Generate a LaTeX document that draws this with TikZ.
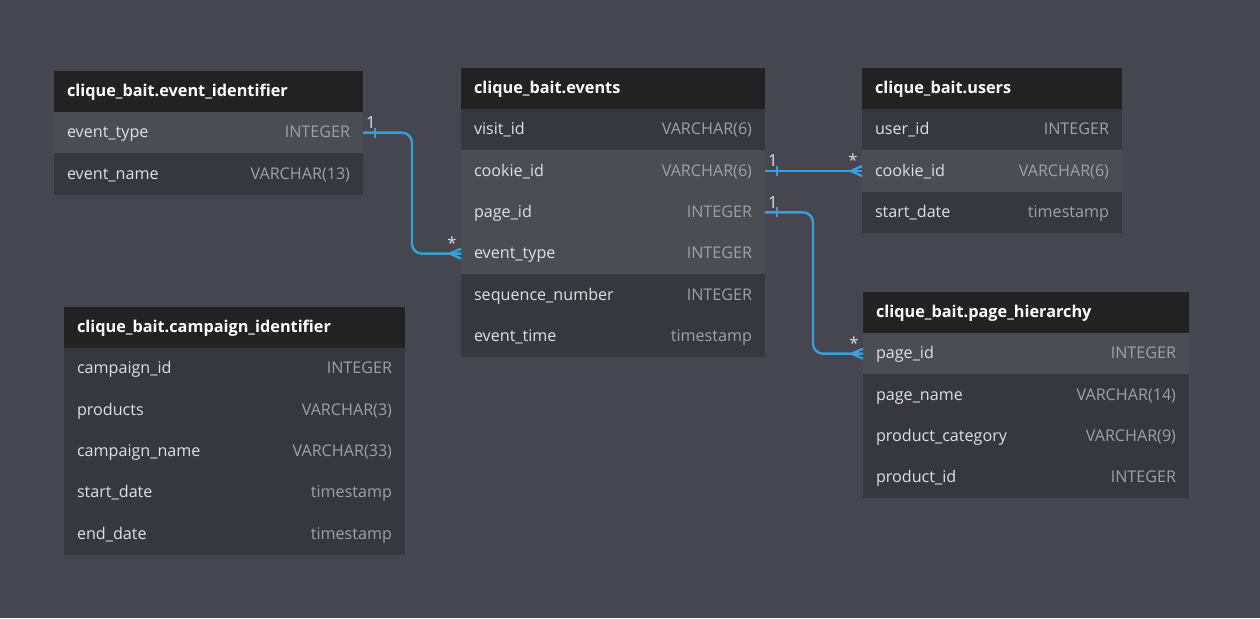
\documentclass[tikz,border=0pt]{standalone}
\usepackage{fontspec}
\setmainfont{Open Sans}
\usetikzlibrary{positioning}
\definecolor{canvasgrey}{RGB}{69,70,79}
\definecolor{headblack}{RGB}{34,34,35}
\definecolor{rowdark}{RGB}{55,56,63}
\definecolor{rowlight}{RGB}{75,76,84}
\definecolor{namegrey}{RGB}{224,224,226}
\definecolor{typegrey}{RGB}{160,160,166}
\definecolor{linkblue}{RGB}{55,160,220}

\begin{document}
\begin{tikzpicture}[
  x=0.75pt, y=-0.75pt,
  font=\fontsize{12.1}{14}\selectfont,
  head/.style={fill=headblack, text=white, font=\fontsize{12.2}{14}\selectfont\bfseries, anchor=north west,
    inner xsep=9.75pt, inner ysep=0pt, minimum height=30.75pt, text height=10.5pt, text depth=3pt, outer sep=0pt},
  row/.style={fill=#1, text=namegrey, inner xsep=9.75pt, inner ysep=0pt, minimum height=31pt,
    text height=10.5pt, text depth=3pt, outer sep=0pt},
  link/.style={draw=linkblue, line width=1.8pt, rounded corners=7.5pt},
  card/.style={text=namegrey, inner sep=0pt, font=\fontsize{12.5}{14}\selectfont},
]
\path[fill=canvasgrey, use as bounding box] (0,0) rectangle (1260,618);

% tables
\node[head] (ei0) at (54,71) {\makebox[212.25pt][l]{clique\_bait.event\_identifier}};
\foreach \n/\t/\f [count=\i, remember=\i as \j (initially 0)] in
  {event\_type/INTEGER/rowlight, event\_name/VARCHAR(13)/rowdark}
  \node[row=\f, below=0pt of ei\j] (ei\i) {\makebox[212.25pt]{\n\hfill\textcolor{typegrey}{\t}}};

\node[head] (ev0) at (461,68) {\makebox[208.5pt][l]{clique\_bait.events}};
\foreach \n/\t/\f [count=\i, remember=\i as \j (initially 0)] in
  {visit\_id/VARCHAR(6)/rowdark, cookie\_id/VARCHAR(6)/rowlight, page\_id/INTEGER/rowlight,
   event\_type/INTEGER/rowlight, sequence\_number/INTEGER/rowdark, event\_time/timestamp/rowdark}
  \node[row=\f, below=0pt of ev\j] (ev\i) {\makebox[208.5pt]{\n\hfill\textcolor{typegrey}{\t}}};

\node[head] (us0) at (862,68) {\makebox[175.5pt][l]{clique\_bait.users}};
\foreach \n/\t/\f [count=\i, remember=\i as \j (initially 0)] in
  {user\_id/INTEGER/rowdark, cookie\_id/VARCHAR(6)/rowlight, start\_date/timestamp/rowdark}
  \node[row=\f, below=0pt of us\j] (us\i) {\makebox[175.5pt]{\n\hfill\textcolor{typegrey}{\t}}};

\node[head] (ph0) at (863,292) {\makebox[225pt][l]{clique\_bait.page\_hierarchy}};
\foreach \n/\t/\f [count=\i, remember=\i as \j (initially 0)] in
  {page\_id/INTEGER/rowlight, page\_name/VARCHAR(14)/rowdark, product\_category/VARCHAR(9)/rowdark,
   product\_id/INTEGER/rowdark}
  \node[row=\f, below=0pt of ph\j] (ph\i) {\makebox[225pt]{\n\hfill\textcolor{typegrey}{\t}}};

\node[head] (ca0) at (64,307) {\makebox[236.25pt][l]{clique\_bait.campaign\_identifier}};
\foreach \n/\t/\f [count=\i, remember=\i as \j (initially 0)] in
  {campaign\_id/INTEGER/rowdark, products/VARCHAR(3)/rowdark, campaign\_name/VARCHAR(33)/rowdark,
   start\_date/timestamp/rowdark, end\_date/timestamp/rowdark}
  \node[row=\f, below=0pt of ca\j] (ca\i) {\makebox[236.25pt]{\n\hfill\textcolor{typegrey}{\t}}};

% relations
\draw[link] (ei1.east) -- ++(49,0) |- (ev4.west);
\draw[link] (ev2.east) -- (us2.west);
\draw[link] (ev3.east) -- ++(48,0) |- (ph1.west);

% one ends
\foreach \a in {ei1, ev2, ev3}
  \draw[link] ([xshift=9pt]\a.east) ++(0,-5) -- ++(0,10);
% many ends
\foreach \b in {ev4, us2, ph1}
  \draw[link] (\b.west) ++(-11,0) -- ++(11,-5) ++(-11,5) -- ++(11,5);

\node[card] (one1) at ([shift={(8,-10)}]ei1.east) {1};
\node[card] (many1) at ([shift={(-9,-11)}]ev4.west) {*};
\node[card] (one2) at ([shift={(8,-10)}]ev2.east) {1};
\node[card] (many2) at ([shift={(-9,-11)}]us2.west) {*};
\node[card] (one3) at ([shift={(8,-10)}]ev3.east) {1};
\node[card] (many3) at ([shift={(-9,-11)}]ph1.west) {*};
\end{tikzpicture}
\end{document}
